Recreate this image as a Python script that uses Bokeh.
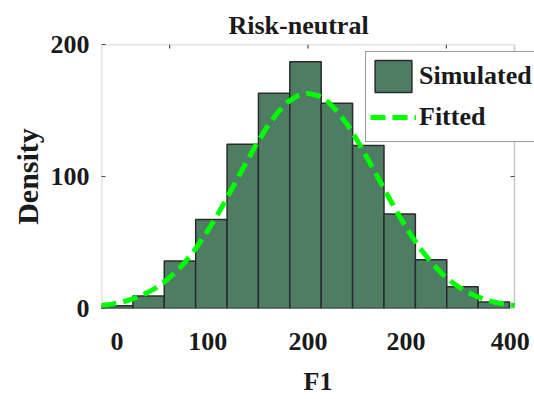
from bokeh.plotting import figure
from bokeh.models import (ColumnDataSource, Range1d, FixedTicker, Legend, LegendItem,
                          BoxAnnotation)
from bokeh.embed import file_html
from bokeh.resources import INLINE

# ---- data ----
bin_left = [0, 30.4, 60.8, 91.2, 121.6, 152.0, 182.4, 212.8, 243.2, 273.6, 304.0, 334.4, 364.8]
bin_right = [30.4, 60.8, 91.2, 121.6, 152.0, 182.4, 212.8, 243.2, 273.6, 304.0, 334.4, 364.8, 395.2]
counts = [2, 9.5, 36, 67.5, 124.5, 163, 187, 155.5, 123.5, 71.5, 37, 16.5, 5]

fit_x = [0, 10, 20, 30, 40, 50, 60, 70, 80, 90, 100, 110, 120, 130, 140, 150, 160, 170, 180, 190,
         200, 210, 220, 230, 240, 250, 260, 270, 280, 290, 300, 310, 320, 330, 340, 350, 360, 370,
         380, 390, 400]
fit_y = [2.2, 3.3, 4.9, 7.2, 10.2, 14.3, 19.6, 26.2, 34.3, 44.1, 55.3, 67.9, 81.6, 96.0, 110.4,
         124.4, 137.1, 147.9, 156.1, 161.2, 163.0, 161.2, 156.1, 147.9, 137.1, 124.4, 110.4, 96.0,
         81.6, 67.9, 55.3, 44.1, 34.3, 26.2, 19.6, 14.3, 10.2, 7.2, 4.9, 3.3, 2.2]

x_ticks = [15, 103, 200, 295, 396]
x_tick_labels = ["0", "100", "200", "200", "400"]
y_ticks = [0, 100, 200]
top_ticks = [66, 200, 334]
right_ticks = [100]

title_text = "Risk-neutral"
x_label = "F1"
y_label = "Density"
series_names = ["Simulated", "Fitted"]

X_MIN, X_MAX = 0, 400
Y_MIN, Y_MAX = 0, 200

FONT = "Liberation Serif"
TXT = "#1a1a1a"
EDGE = "#4d4d4d"

# frame reaches the page's right edge so the legend can overflow the axes box as in the reference
p = figure(width=534, height=399,
           x_range=Range1d(X_MIN, X_MAX + (X_MAX - X_MIN) * 20 / 413),
           y_range=Range1d(Y_MIN, Y_MAX),
           output_backend="svg", toolbar_location=None,
           min_border_left=101, min_border_right=0, min_border_top=44, min_border_bottom=91)
p.background_fill_color = "white"
p.border_fill_color = "white"
p.outline_line_color = None
p.xgrid.visible = False
p.ygrid.visible = False

src = ColumnDataSource(dict(left=bin_left, right=bin_right, top=counts, bottom=[0] * len(counts)))
bars = p.quad(left="left", right="right", top="top", bottom="bottom", source=src,
              fill_color="#4E7D64", line_color="#2b2b2b", line_width=1.5)
fit = p.line(fit_x, fit_y, line_color="#00FF00", line_width=5, line_dash="15 7")

# inner tick marks on the top and right sides of the axes box
tick_len_y = 4 * (Y_MAX - Y_MIN) / 263.7
tick_len_x = 4 * (X_MAX - X_MIN) / 413
p.segment(x0=top_ticks, y0=[Y_MAX] * len(top_ticks), x1=top_ticks,
          y1=[Y_MAX - tick_len_y] * len(top_ticks), line_color=EDGE, line_width=1.2)
p.segment(x0=[X_MAX] * len(right_ticks), y0=right_ticks, x1=[X_MAX - tick_len_x] * len(right_ticks),
          y1=right_ticks, line_color=EDGE, line_width=1.2)

# axes box
box = BoxAnnotation(left=X_MIN, right=X_MAX, bottom=Y_MIN, top=Y_MAX,
                    fill_alpha=0, fill_color=None, line_color=EDGE, line_width=1.5)
p.add_layout(box)

# title
p.title.text = title_text
p.title.align = "left"
p.title.offset = 127
p.title.text_font = FONT
p.title.text_font_style = "bold"
p.title.text_font_size = "26px"
p.title.text_color = TXT

def style_axis(ax):
    ax.axis_line_color = None
    ax.major_tick_line_color = EDGE
    ax.major_tick_line_width = 1.2
    ax.minor_tick_line_color = None
    ax.major_label_text_font = FONT
    ax.major_label_text_font_style = "bold"
    ax.major_label_text_font_size = "26px"
    ax.major_label_text_color = TXT
    ax.axis_label_text_font = FONT
    ax.axis_label_text_font_style = "bold"
    ax.axis_label_text_color = TXT

# left axis
ya = p.yaxis[0]
style_axis(ya)
ya.ticker = FixedTicker(ticks=y_ticks)
ya.major_tick_in = 4
ya.major_tick_out = 0
ya.major_label_standoff = 12
ya.axis_label = y_label
ya.axis_label_text_font_size = "30px"
ya.axis_label_standoff = 4

# bottom axis
xa = p.xaxis[0]
style_axis(xa)
xa.ticker = FixedTicker(ticks=x_ticks)
xa.major_label_overrides = {t: lab for t, lab in zip(x_ticks, x_tick_labels)}
xa.major_tick_in = 0
xa.major_tick_out = 0
xa.major_label_standoff = 24
xa.axis_label = x_label
xa.axis_label_text_font_size = "26px"
xa.axis_label_standoff = 14

legend = Legend(items=[LegendItem(label=series_names[0], renderers=[bars]),
                       LegendItem(label=series_names[1], renderers=[fit])],
                location=(264, 166))
legend.glyph_width = 46
legend.glyph_height = 40
legend.label_height = 40
legend.label_text_font = FONT
legend.label_text_font_style = "bold"
legend.label_text_font_size = "26px"
legend.label_text_color = TXT
legend.label_standoff = 3
legend.spacing = 1
legend.padding = 4
legend.margin = 0
legend.border_line_color = "#333333"
legend.border_line_width = 1
legend.background_fill_color = "white"
legend.background_fill_alpha = 1
p.add_layout(legend, "center")

open("out.html", "w").write(file_html(p, INLINE))
